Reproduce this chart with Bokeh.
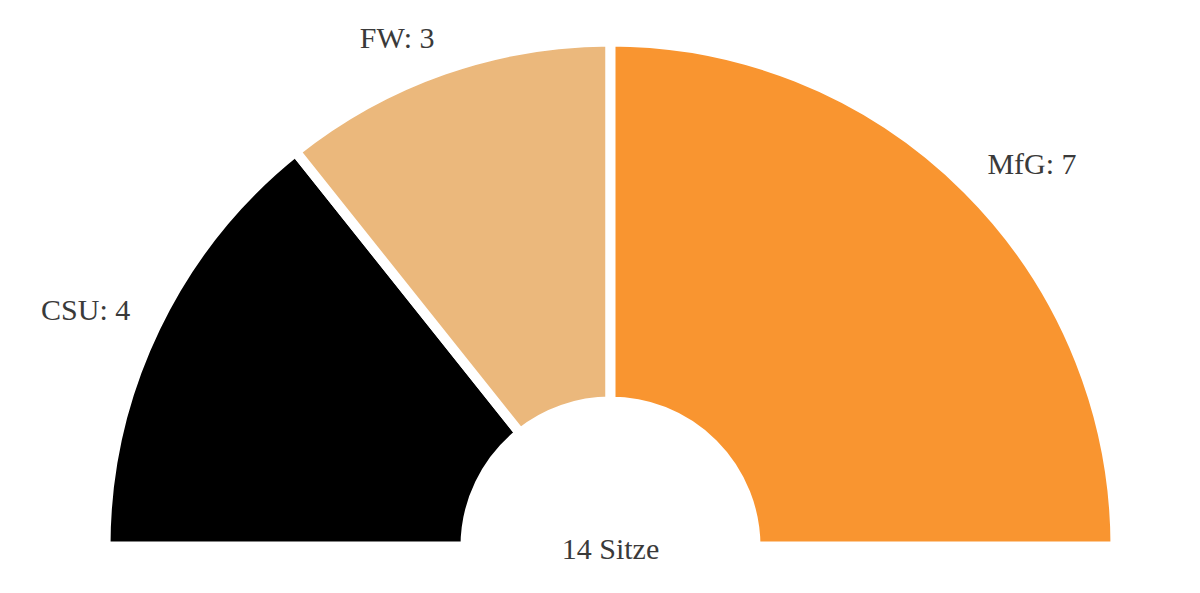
import math
from bokeh.plotting import figure
from bokeh.models import Range1d, ColumnDataSource
from bokeh.core.properties import value
from bokeh.embed import file_html
from bokeh.resources import INLINE

parties = ["CSU", "FW", "MfG"]
seats = [4, 3, 7]
colors = ["#000000", "#EBB87C", "#F99530"]
total_label = "14 Sitze"

total = sum(seats)
starts, ends, mids = [], [], []
acc = 0
for s in seats:
    a0 = math.pi - acc / total * math.pi
    acc += s
    a1 = math.pi - acc / total * math.pi
    starts.append(a1)
    ends.append(a0)
    mids.append((a0 + a1) / 2)

R_OUT = 505
R_IN = 145
R_LAB = 533

src = ColumnDataSource(dict(start=starts, end=ends, color=colors))

p = figure(width=1184, height=577, output_backend="svg", toolbar_location=None,
           x_range=Range1d(-610, 574), y_range=Range1d(-31, 546),
           min_border=0)
p.axis.visible = False
p.grid.visible = False
p.outline_line_color = None
p.background_fill_color = "white"
p.border_fill_color = "white"

p.annular_wedge(x=0, y=0, inner_radius=R_IN, outer_radius=R_OUT,
                start_angle="start", end_angle="end", fill_color="color",
                line_color="white", line_width=10, source=src)

lx, ly, labels, aligns = [], [], [], []
for name, s, m in zip(parties, seats, mids):
    lx.append(R_LAB * math.cos(m))
    ly.append(R_LAB * math.sin(m))
    labels.append(f"{name}: {s}")
    aligns.append("right" if math.cos(m) < 0 else "left")

lsrc = ColumnDataSource(dict(x=lx, y=ly, t=labels, a=aligns))
p.text(x="x", y="y", text="t", text_align="a", text_baseline="middle",
       y_offset=-6,
       text_font=value("Liberation Serif"), text_font_size="30px",
       text_color="#3a3a3a", source=lsrc)

p.text(x=[0], y=[-2], text=[total_label], text_align="center", text_baseline="middle",
       text_font=value("Liberation Serif"), text_font_size="30px",
       text_color="#3a3a3a")

open("out.html", "w").write(file_html(p, INLINE))
